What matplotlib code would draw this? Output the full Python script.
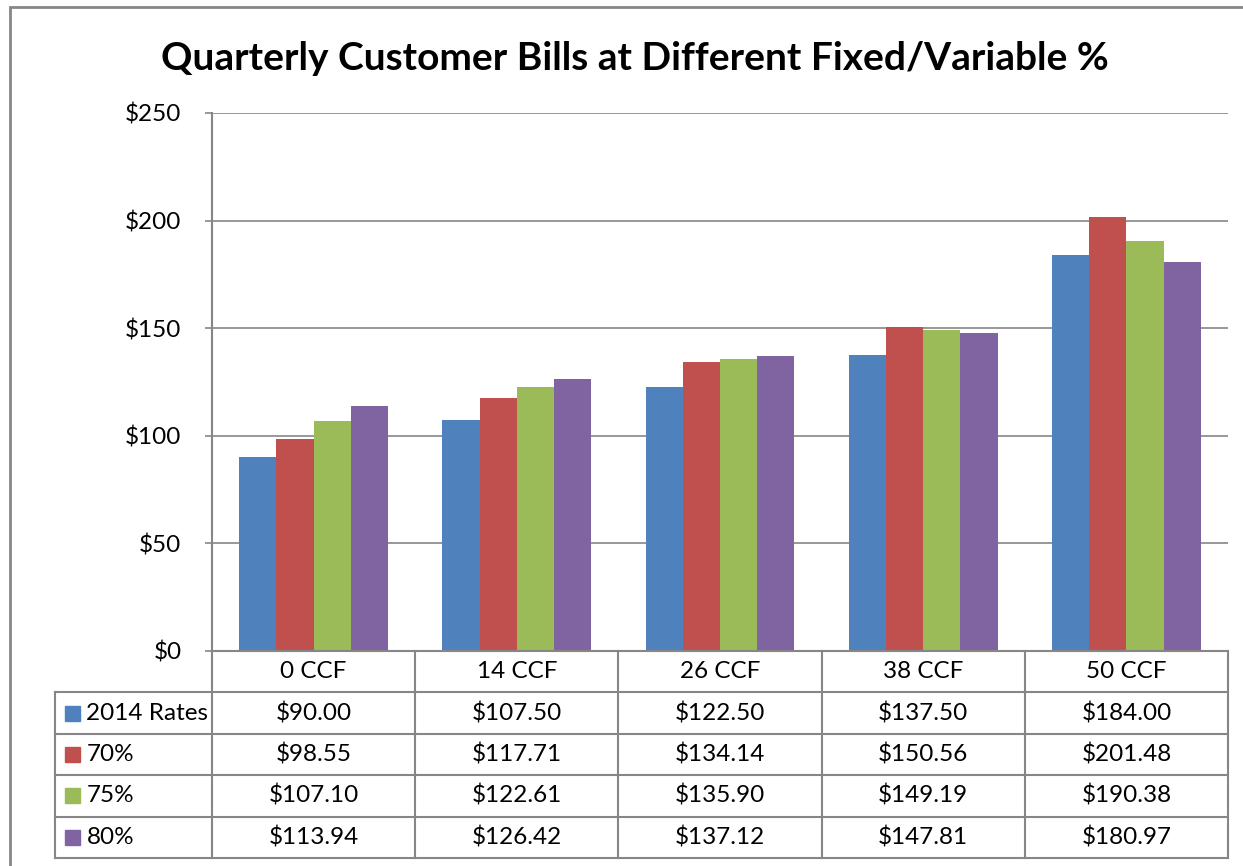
import numpy as np
import matplotlib
matplotlib.use("Agg")
import matplotlib.pyplot as plt
from matplotlib.patches import Rectangle

# data
categories = ["0 CCF", "14 CCF", "26 CCF", "38 CCF", "50 CCF"]
series_names = ["2014 Rates", "70%", "75%", "80%"]
rates_2014 = [90.00, 107.50, 122.50, 137.50, 184.00]
pct_70 = [98.55, 117.71, 134.14, 150.56, 201.48]
pct_75 = [107.10, 122.61, 135.90, 149.19, 190.38]
pct_80 = [113.94, 126.42, 137.12, 147.81, 180.97]
colors = ["#4F81BD", "#C0504D", "#9BBB59", "#8064A2"]
yticks = [0, 50, 100, 150, 200, 250]

series = [rates_2014, pct_70, pct_75, pct_80]

plt.rcParams['font.family'] = ['Lato', 'DejaVu Sans']
W, H = 1243, 866
fig = plt.figure(figsize=(W/100, H/100), dpi=100)
grid_c = "#868686"

def fx(px):
	return px / W
def fy(py):
	return 1 - py / H

#outer border
fig.patches.append(Rectangle((fx(10), fy(900)), 1.2, fy(7) - fy(900), transform=fig.transFigure,
	fill=False, edgecolor=grid_c, linewidth=2))

fig.text(fx(635), fy(58), "Quarterly Customer Bills at Different Fixed/Variable %",
	ha="center", va="center", fontsize=28, fontweight="bold")

#main bar area
left, right, top, bottom = 212, 1228, 113, 651
ax = fig.add_axes([fx(left), fy(bottom), fx(right - left), fy(top) - fy(bottom)])
x = np.arange(len(categories))
bw = 0.183
for i, (vals, c) in enumerate(zip(series, colors)):
	ax.bar(x + (i - 1.5) * bw, vals, bw, color=c, zorder=3)
ax.set_xlim(-0.5, len(categories) - 0.5)
ax.set_ylim(0, 250)
ax.set_yticks(yticks)
ax.set_yticklabels(["$%d" % v for v in yticks], fontsize=17.5)
ax.set_xticks([])
ax.yaxis.grid(True, color=grid_c, linewidth=1.2, zorder=0)
for s in ["top", "right", "bottom"]:
	ax.spines[s].set_visible(False)
ax.spines["left"].set_color(grid_c)
ax.spines["left"].set_linewidth(1.5)
ax.tick_params(axis="y", length=5, color=grid_c, width=1.2, pad=17)

#data table below
unit = (right - left) / len(categories)
lab_w = (right - 55) / unit - len(categories)
tax = fig.add_axes([fx(55), fy(858), fx(right - 55), fy(651) - fy(858)])
tax.set_xlim(-0.5 - lab_w, len(categories) - 0.5)
tax.set_ylim(len(series) + 1, 0)
tax.axis("off")
lw = 1.5
#horizontal lines
tax.plot([-0.5, len(categories) - 0.5], [0, 0], color=grid_c, lw=lw, clip_on=False)
for r in range(1, len(series) + 2):
	tax.plot([-0.5 - lab_w, len(categories) - 0.5], [r, r], color=grid_c, lw=lw, clip_on=False)
#vertical lines
tax.plot([-0.5 - lab_w, -0.5 - lab_w], [1, len(series) + 1], color=grid_c, lw=lw, clip_on=False)
for k in range(len(categories) + 1):
	tax.plot([k - 0.5, k - 0.5], [0, len(series) + 1], color=grid_c, lw=lw, clip_on=False)

for k, cat in enumerate(categories):
	tax.text(k, 0.5, cat, ha="center", va="center", fontsize=17.5)
for r, (name, vals, c) in enumerate(zip(series_names, series, colors)):
	yy = r + 1.5
	tax.add_patch(Rectangle((-0.5 - lab_w + 0.05, yy - 0.18), 0.075, 0.36, color=c))
	tax.text(-0.5 - lab_w + 0.155, yy, name, ha="left", va="center", fontsize=17.5)
	for k, v in enumerate(vals):
		tax.text(k, yy, "$%.2f" % v, ha="center", va="center", fontsize=17.5)

plt.savefig("out.png", dpi=100)
